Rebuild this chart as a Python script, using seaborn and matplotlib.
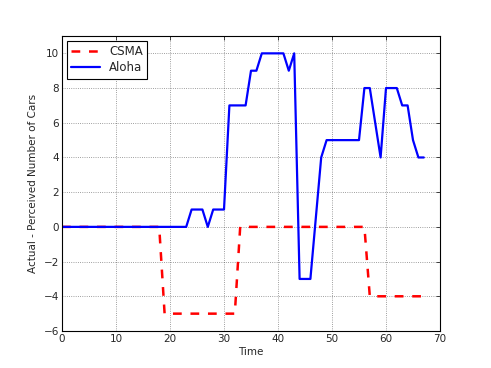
import matplotlib
matplotlib.use("Agg")
import matplotlib.pyplot as plt
import seaborn as sns
import pandas as pd

csma_time = [0, 18, 19, 32, 33, 56, 57, 67]
csma_vals = [0, 0, -5, -5, 0, 0, -4, -4]

aloha_time = [0, 23, 24, 26, 27, 28, 30, 31, 34, 35, 36, 37, 41, 42, 43, 44, 46, 48, 49,
              55, 56, 57, 59, 60, 62, 63, 64, 65, 66, 67]
aloha_vals = [0, 0, 1, 1, 0, 1, 1, 7, 7, 9, 9, 10, 10, 9, 10, -3, -3, 4, 5,
              5, 8, 8, 4, 8, 8, 7, 7, 5, 4, 4]

xticks = [0, 10, 20, 30, 40, 50, 60, 70]
yticks = [-6, -4, -2, 0, 2, 4, 6, 8, 10]

sns.set_style("white")
plt.rcParams['font.family'] = ['DejaVu Sans']

df_c = pd.DataFrame({"Time": csma_time, "val": csma_vals})
df_a = pd.DataFrame({"Time": aloha_time, "val": aloha_vals})

fig = plt.figure(figsize=(4.91, 3.68), dpi=100)
ax = fig.add_axes([62/491, 1-331/368, (440-62)/491, (331-36)/368])

sns.lineplot(data=df_c, x="Time", y="val", ax=ax, color="red", linestyle="--",
             linewidth=1.8, label="CSMA", dashes=False)
ax.lines[-1].set_dashes([3.5, 3.5])
sns.lineplot(data=df_a, x="Time", y="val", ax=ax, color="blue", linewidth=1.6,
             label="Aloha")

ax.set_xlim(0, 70)
ax.set_ylim(-6, 11)
ax.set_xticks(xticks)
ax.set_yticks(yticks)
ax.set_xticklabels([str(t) for t in xticks], fontsize=7.5)
ax.set_yticklabels([str(t).replace('-', '\u2212') for t in yticks], fontsize=7.5)
ax.set_xlabel("Time", fontsize=7.5, labelpad=2)
ax.set_ylabel("Actual - Perceived Number of Cars", fontsize=7.5, labelpad=4)
ax.grid(True, color="black", linestyle=":", linewidth=0.6, alpha=0.5)
ax.tick_params(direction="in", length=3, top=True, right=True, width=0.6, pad=2)
for s in ax.spines.values():
    s.set_color("black")
    s.set_linewidth(0.8)

leg = ax.legend(loc="upper left", fontsize=8.5, frameon=True, fancybox=False,
                handlelength=2.4, borderaxespad=0.45, borderpad=0.35,
                labelspacing=0.25)
leg.get_frame().set_edgecolor("black")
leg.get_frame().set_linewidth(0.8)
leg.get_frame().set_alpha(1)

fig.savefig("out.png", dpi=100)
